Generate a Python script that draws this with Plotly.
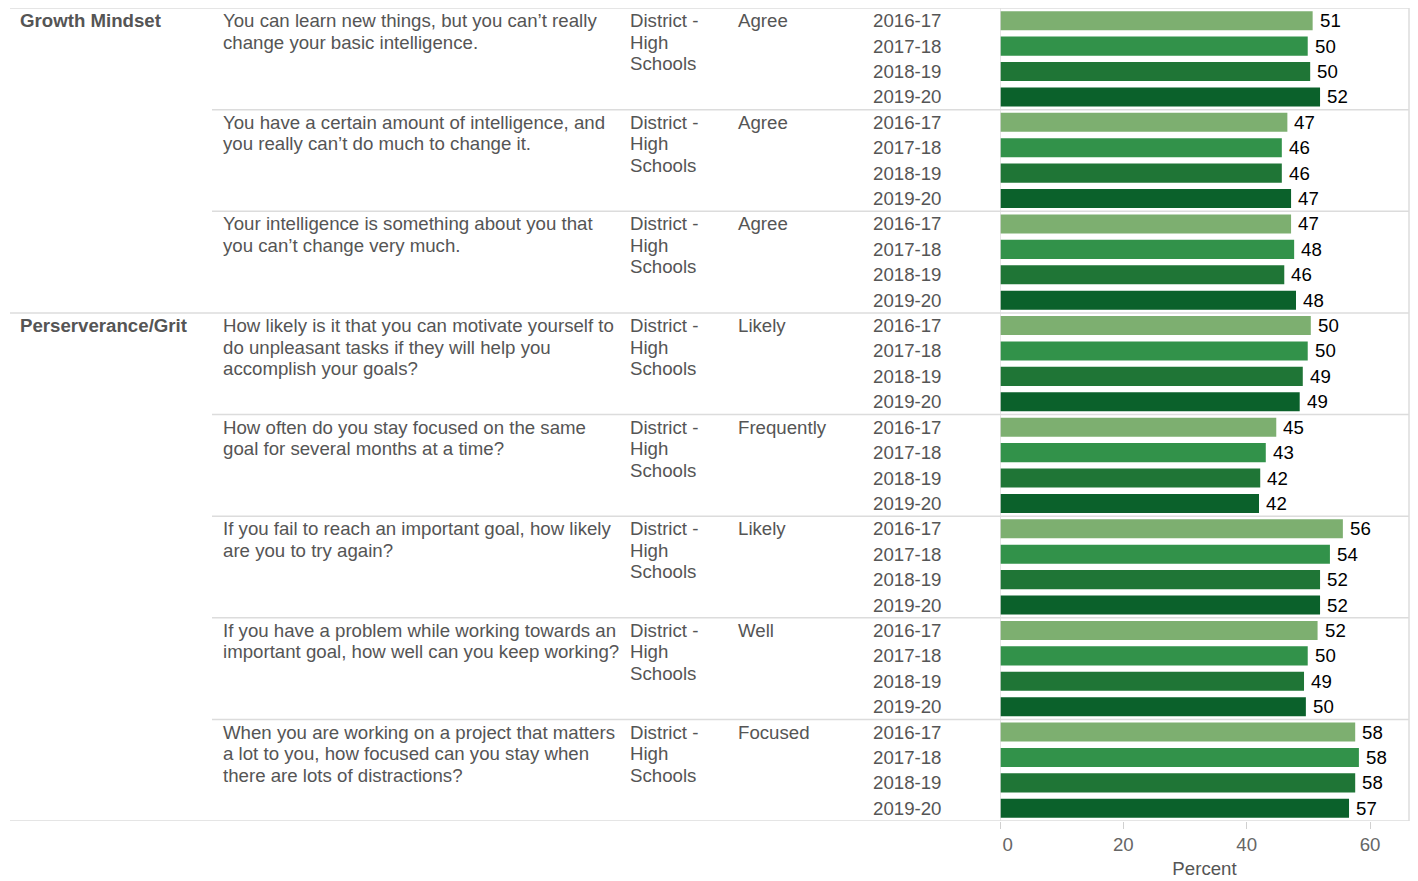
import plotly.graph_objects as go

# ---------------- data ----------------
categories = ["Growth Mindset", "Perserverance/Grit"]
category_of_question = [0, 0, 0, 1, 1, 1, 1, 1]
questions = [
    ["You can learn new things, but you can\u2019t really", "change your basic intelligence."],
    ["You have a certain amount of intelligence, and", "you really can\u2019t do much to change it."],
    ["Your intelligence is something about you that", "you can\u2019t change very much."],
    ["How likely is it that you can motivate yourself to", "do unpleasant tasks if they will help you", "accomplish your goals?"],
    ["How often do you stay focused on the same", "goal for several months at a time?"],
    ["If you fail to reach an important goal, how likely", "are you to try again?"],
    ["If you have a problem while working towards an", "important goal, how well can you keep working?"],
    ["When you are working on a project that matters", "a lot to you, how focused can you stay when", "there are lots of distractions?"],
]
group_label = ["District -", "High", "Schools"]
responses = ["Agree", "Agree", "Agree", "Likely", "Frequently", "Likely", "Well", "Focused"]
years = ["2016-17", "2017-18", "2018-19", "2019-20"]
values_2016_17 = [50.7, 46.6, 47.2, 50.4, 44.8, 55.6, 51.5, 57.6]
values_2017_18 = [49.9, 45.7, 47.7, 49.9, 43.1, 53.5, 49.9, 58.2]
values_2018_19 = [50.3, 45.7, 46.1, 49.1, 42.2, 51.9, 49.3, 57.6]
values_2019_20 = [51.9, 47.2, 48.0, 48.6, 42.0, 51.9, 49.6, 56.6]
year_values = [values_2016_17, values_2017_18, values_2018_19, values_2019_20]
year_colors = ["#7DAF70", "#32924A", "#1F7536", "#0B612B"]
x_ticks = [0, 20, 40, 60]
x_tick_labels = ["\u00a0\u00a0\u00a00", "20", "40", "60"]

# ---------------- layout helpers ----------------
OFF = 8  # page body margin in the browser
W, H = 1408, 871
L = 1000 - OFF
T = 8 - OFF
PLOT_RIGHT = 1409 - OFF
PLOT_BOTTOM = 821 - OFF
R = W - PLOT_RIGHT
B = H - PLOT_BOTTOM
PW = PLOT_RIGHT - L
FONT = "Liberation Sans, Arial, sans-serif"
FS = 18.67
GREY = "#555555"
n_rows = len(questions) * len(years)
row_px = (PLOT_BOTTOM - T) / n_rows
line_step = 21.5 / row_px  # spacing of wrapped text lines in row units


def xp(px_ref):
    return (px_ref - OFF - L) / PW


fig = go.Figure()
annotations = []
shapes = []

for yi, (yr, vals, col) in enumerate(zip(years, year_values, year_colors)):
    ys = [qi * len(years) + yi for qi in range(len(questions))]
    fig.add_trace(go.Bar(
        orientation="h",
        x=vals,
        y=ys,
        marker=dict(color=col, line=dict(width=0)),
        width=0.75,
        name=yr,
        showlegend=False,
        hoverinfo="x+name",
    ))
    for v, y in zip(vals, ys):
        annotations.append(dict(
            xref="x", yref="y", x=v, y=y, xanchor="left", yanchor="middle",
            xshift=5, text=f"{v:.0f}", showarrow=False,
            font=dict(family=FONT, size=FS, color="#000000"),
        ))


def add_text(px_ref, y, text, bold=False, color=GREY):
    annotations.append(dict(
        xref="paper", yref="y", x=xp(px_ref - 2), y=y, xanchor="left", yanchor="middle",
        text=f"<b>{text}</b>" if bold else text, showarrow=False,
        font=dict(family=FONT, size=FS, color=color),
    ))


LINE = dict(color="#DCDCDC", width=1.5)
seen_cat = set()
for qi, lines in enumerate(questions):
    y0 = qi * len(years)
    c = category_of_question[qi]
    if c not in seen_cat:
        seen_cat.add(c)
        add_text(20, y0, categories[c], bold=True)
        shapes.append(dict(type="line", xref="paper", yref="y", x0=xp(10), x1=1,
                           y0=y0 - 0.5, y1=y0 - 0.5, line=LINE))
    else:
        shapes.append(dict(type="line", xref="paper", yref="y", x0=xp(212), x1=1,
                           y0=y0 - 0.5, y1=y0 - 0.5, line=LINE))
    for li, ln in enumerate(lines):
        add_text(223, y0 + li * line_step, ln)
    for li, ln in enumerate(group_label):
        add_text(630, y0 + li * line_step, ln)
    add_text(738, y0, responses[qi])
    for yi, yr in enumerate(years):
        add_text(873, y0 + yi, yr)

# bottom line, zero line, right border
shapes.append(dict(type="line", xref="paper", yref="y", x0=xp(10), x1=1,
                   y0=n_rows - 0.5, y1=n_rows - 0.5, line=LINE))
shapes.append(dict(type="line", xref="x", yref="y", x0=0, x1=0,
                   y0=-0.5, y1=n_rows - 0.5, line=LINE))
shapes.append(dict(type="line", xref="paper", yref="y", x0=1, x1=1,
                   y0=-0.5, y1=n_rows - 0.5, line=LINE))

fig.update_layout(
    width=W, height=H,
    margin=dict(l=L, r=R, t=T, b=B, pad=0),
    paper_bgcolor="white", plot_bgcolor="white",
    barmode="overlay",
    annotations=annotations,
    shapes=shapes,
    font=dict(family=FONT, size=FS, color=GREY),
    xaxis=dict(
        range=[0, PW / (370 / 60)],
        tickvals=x_ticks, ticktext=x_tick_labels,
        ticks="outside", ticklen=7, tickcolor="#D0D0D0", tickwidth=1,
        showgrid=False, zeroline=False, showline=False,
        tickfont=dict(family=FONT, size=FS, color="#666666"),
        title=dict(text="Percent", font=dict(family=FONT, size=FS, color=GREY), standoff=13),
        automargin=False,
        fixedrange=True,
    ),
    yaxis=dict(
        range=[n_rows - 0.5, -0.5],
        showticklabels=False, showgrid=False, zeroline=False, showline=False, ticks="",
        automargin=False,
        fixedrange=True,
    ),
)

fig.write_html("out.html")
